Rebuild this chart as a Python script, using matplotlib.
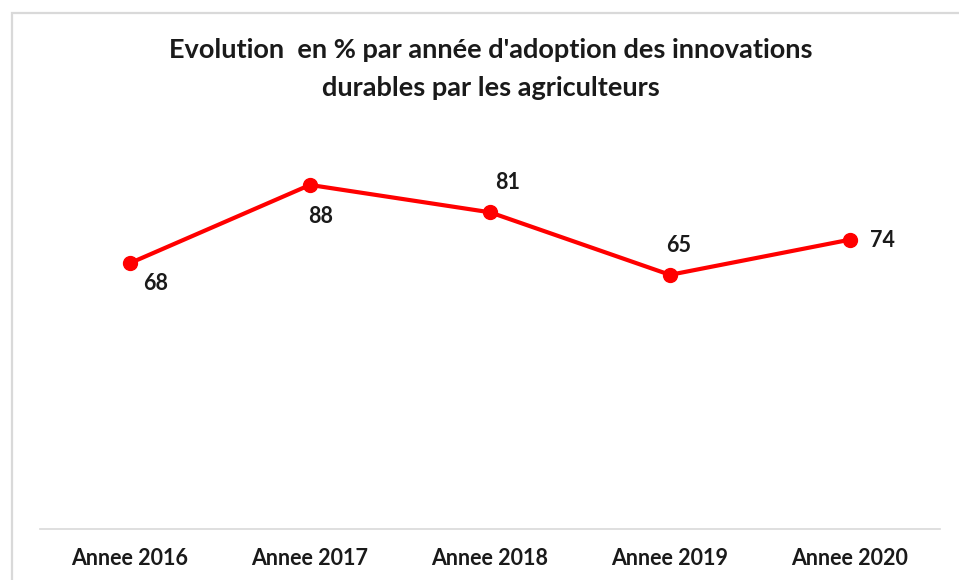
import matplotlib
matplotlib.use("Agg")
import matplotlib.pyplot as plt
from matplotlib.patches import Rectangle

categories = ["Annee 2016", "Annee 2017", "Annee 2018", "Annee 2019", "Annee 2020"]
values = [68, 88, 81, 65, 74]
# label offsets in pixels (dx, dy) from each point
label_offsets = [(26, -20), (11, -32), (18, 30), (9, 29), (32, -1)]

plt.rcParams["font.family"] = ["Lato", "DejaVu Sans"]

W, H = 959, 580
fig = plt.figure(figsize=(W / 100, H / 100), dpi=100)
fig.patch.set_facecolor("white")

# outer chart border
fig.add_artist(Rectangle((12 / W, -0.05), (W + 10 - 12) / W, 1.05 - 13 / H,
                         transform=fig.transFigure, fill=False,
                         edgecolor="#D9D9D9", linewidth=1.6))

ax = fig.add_axes([40 / W, 51 / H, 900 / W, (529 - 138) / H])
x = list(range(len(categories)))
ax.plot(x, values, color="#FF0000", linewidth=3, marker="o", markersize=10,
        solid_capstyle="round")

for xi, v, (dx, dy) in zip(x, values, label_offsets):
    ax.annotate(str(v), (xi, v), xytext=(dx * 0.72, dy * 0.72),
                textcoords="offset points", ha="center", va="center",
                fontsize=15.5, fontweight="bold", color="#1a1a1a")

ax.set_xlim(-0.5, len(categories) - 0.5)
ax.set_ylim(0, 100)
ax.set_xticks(x)
ax.set_xticklabels(categories, fontsize=15.5, fontweight="bold", color="#1a1a1a")
ax.tick_params(axis="x", length=0, pad=14)
ax.set_yticks([])
for side in ["top", "left", "right"]:
    ax.spines[side].set_visible(False)
ax.spines["bottom"].set_color("#D9D9D9")
ax.spines["bottom"].set_linewidth(1.2)

fig.text(491 / W, 1 - 50 / H, "Evolution  en % par année d'adoption des innovations",
         ha="center", va="center", fontsize=19.5, fontweight="bold", color="#1a1a1a")
fig.text(491 / W, 1 - 88 / H, "durables par les agriculteurs",
         ha="center", va="center", fontsize=19.5, fontweight="bold", color="#1a1a1a")

fig.savefig("out.png", dpi=100)
